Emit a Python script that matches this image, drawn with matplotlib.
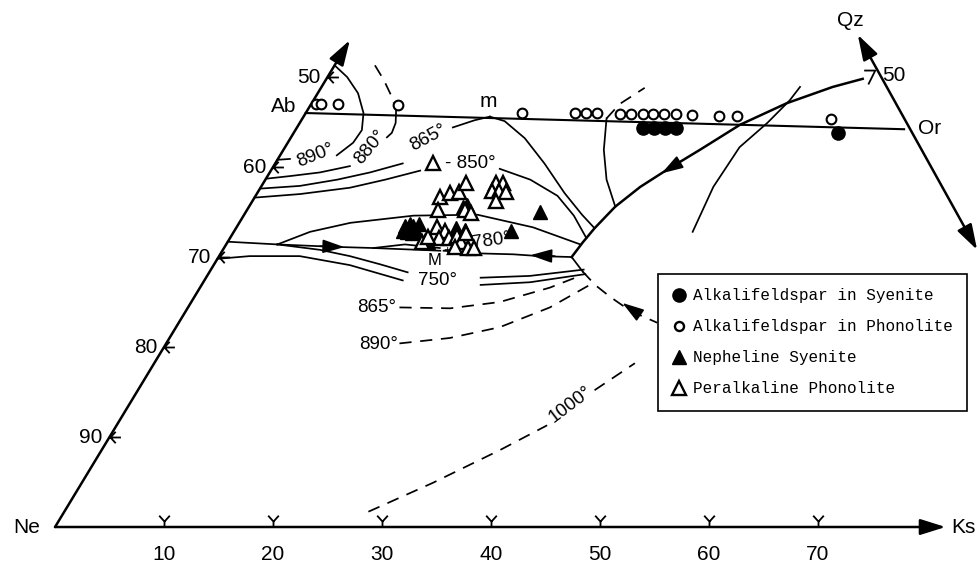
import numpy as np
import matplotlib.pyplot as plt
from matplotlib.lines import Line2D
from matplotlib.path import Path

plt.rcParams['font.family'] = ['Liberation Sans', 'DejaVu Sans']

# all compositions are (Ks, Qz) in wt.%, Ne = 100 - Ks - Qz
ab = (0.0, 46.0)
orth = (55.8, 44.2)
ks_tip = (81.7, 0.0)
qz_tip_left = (0.0, 54.1)
qz_tip_right = (46.3, 54.7)
ks_tip_right = (69.2, 30.8)

ks_ticks = [10, 20, 30, 40, 50, 60, 70]
ne_ticks = [90, 80, 70, 60, 50]

# samples
afs_syenite_ks = [31.8, 32.8, 33.8, 34.8, 49.9]
afs_syenite_qz = [44.3, 44.3, 44.3, 44.3, 43.8]
afs_phonolite_ks = [0.4, 0.9, 2.5, 8.0, 19.8, 24.7, 25.7, 26.7, 28.9, 29.9,
                    31.0, 31.9, 32.9, 34.0, 35.5, 38.1, 39.7, 48.5]
afs_phonolite_qz = [47.0, 47.0, 47.0, 46.9, 46.0, 46.0, 46.0, 46.0, 45.9, 45.9,
                    45.9, 45.9, 45.9, 45.9, 45.8, 45.7, 45.7, 45.3]
neph_syenite_ks = [19.6, 19.9, 15.4, 15.7, 16.1, 16.5, 15.9, 16.4, 16.7, 15.5,
                   18.4, 18.0, 20.2, 21.1, 25.4, 27.0]
neph_syenite_qz = [35.6, 35.8, 33.4, 33.7, 33.4, 33.7, 32.8, 32.7, 32.9, 32.9,
                   31.7, 31.9, 33.2, 33.0, 32.9, 35.0]
peralk_phon_ks = [14.5, 17.0, 17.7, 18.5, 18.6, 17.5, 21.4, 22.0, 21.4, 22.1,
                  22.8, 22.4, 20.0, 20.7, 18.4, 19.3, 19.2, 20.1, 20.7, 21.4,
                  21.1, 22.4, 22.9, 21.4, 17.8, 18.1]
peralk_phon_qz = [40.4, 36.7, 37.1, 37.2, 38.2, 35.2, 38.2, 38.2, 37.3, 37.3,
                  37.2, 36.2, 35.2, 34.9, 33.3, 32.9, 32.1, 32.1, 32.3, 31.7,
                  31.1, 31.0, 31.0, 32.7, 31.7, 32.2]

# isotherms and boundaries
iso890_a = [(0.0, 51.3), (1.8, 50.0), (3.7, 48.2), (5.3, 46.0), (6.1, 44.1), (6.0, 42.7), (5.2, 41.3)]
iso890_b = [(1.1, 40.9), (0.0, 40.8)]
iso880_dash = [(3.7, 51.3), (5.3, 49.7), (7.0, 47.8), (7.9, 46.6)]
iso880_a = [(8.0, 46.6), (8.8, 44.9), (9.0, 43.8), (8.8, 43.3)]
iso880_b = [(7.0, 40.1), (4.6, 39.4), (2.1, 39.0), (0.0, 38.7)]
iso865_a = [(0.0, 37.6), (3.5, 37.9), (6.6, 38.6), (9.2, 39.4), (11.7, 40.4)]
iso865_b = [(14.3, 44.4), (15.9, 45.2), (17.1, 45.6)]
iso850_a = [(0.0, 36.6), (4.0, 37.0), (8.2, 37.7), (11.0, 38.6), (13.7, 39.6)]
iso850_b = [(20.9, 39.8), (24.3, 38.6), (27.7, 36.8), (30.3, 34.6), (32.7, 32.1)]
divide_m = [(17.1, 45.6), (18.7, 45.1), (21.5, 43.2), (24.7, 40.4), (28.2, 37.1), (31.0, 34.7), (32.9, 33.2)]
boundary = [(49.2, 49.8), (46.9, 48.9), (43.6, 47.1), (40.5, 44.7), (38.2, 41.9), (36.3, 39.7),
            (34.8, 37.8), (33.6, 35.6), (32.9, 33.2), (32.6, 31.6), (32.4, 30.0)]
vert = [(27.9, 45.4), (29.4, 41.9), (31.3, 38.6), (33.6, 35.6)]
vert_dash = [(27.9, 45.4), (28.3, 47.0), (29.7, 48.8)]
right_curve = [(42.1, 32.8), (41.5, 37.8), (41.7, 42.2), (42.9, 44.9), (43.7, 47.4), (43.9, 48.9)]
axis_to_t1 = [(0.0, 31.7), (4.7, 31.4)]
t1_to_m = [(4.7, 31.4), (8.7, 31.2), (10.9, 31.1), (13.7, 31.0), (20.0, 30.7)]
lens = [(13.7, 31.0), (16.4, 31.4), (19.8, 31.0)]
m_to_p = [(20.3, 30.7), (23.8, 30.4), (26.9, 30.3), (29.4, 30.1), (32.4, 30.0)]
iso780 = [(4.7, 31.4), (7.0, 32.8), (10.2, 33.8), (15.6, 34.6), (21.4, 34.7), (27.2, 33.3), (32.5, 31.4)]
iso750_a = [(4.7, 31.4), (8.9, 30.8), (12.0, 30.1), (15.2, 29.2), (18.2, 28.3)]
iso750_a2 = [(25.2, 27.7), (29.6, 27.9), (34.2, 28.6)]
iso750_b = [(0.0, 29.8), (2.8, 30.1), (7.4, 30.1), (12.5, 29.1), (18.2, 27.4)]
iso750_b2 = [(25.6, 26.9), (30.0, 27.2), (34.6, 28.1)]
p_solid = [(32.4, 30.0), (34.2, 28.4)]
p_dash = [(34.2, 28.4), (36.1, 26.9), (38.1, 25.6), (40.8, 24.0), (43.9, 22.7)]
iso865_low = [(19.4, 24.4), (24.1, 24.3), (28.3, 25.0), (32.1, 26.6), (34.2, 27.9)]
iso890_low = [(21.4, 20.4), (25.7, 21.0), (29.7, 22.2), (33.2, 24.4), (35.8, 27.1)]
iso1000_a = [(27.9, 1.7), (32.2, 4.9), (36.6, 8.6), (39.5, 11.3)]
iso1000_b = [(41.9, 15.2), (44.1, 18.2)]

# (tail, head) of the arrows on the boundaries
arrows = [((37.1, 40.6), (36.0, 39.3)),
          ((8.7, 31.2), (11.0, 31.1)),
          ((30.8, 30.1), (28.5, 30.2)),
          ((41.3, 23.9), (39.6, 24.9))]

# temperature labels: text, Ks, Qz, rotation
temp_labels = [('890°', 3.2, 41.3, 22), ('880°', 7.8, 42.2, 50), ('865°', 12.6, 43.2, 28),
               ('780°', 24.2, 31.8, 8), ('750°', 21.4, 27.4, 0), ('865°', 17.3, 24.4, 0),
               ('890°', 19.5, 20.3, 0), ('1000°', 40.5, 13.6, 37)]


def tern(pts):
    pts = np.asarray(pts, dtype=float)
    return pts[:, 0] + pts[:, 1] / 2, pts[:, 1]


def xy(ks, qz):
    ks = np.asarray(ks, dtype=float)
    qz = np.asarray(qz, dtype=float)
    return ks + qz / 2, qz


fig = plt.figure(figsize=(9.78, 5.63), dpi=100)
ax = fig.add_axes([0, 0, 1, 1])
ax.set_xlim(-5.05, 84.68)
ax.set_ylim(-4.0, 58.56)
ax.axis('off')


def draw(pts, ls='-', lw=1.25):
    x, y = tern(pts)
    if ls == '--':
        ax.plot(x, y, color='black', lw=lw, ls=(0, (7, 5)))
    else:
        ax.plot(x, y, color='black', lw=lw)


def arrow(tail, head, style='-|>', lw=1.8, scale=22):
    ax.annotate('', xy=xy(*head), xytext=xy(*tail),
                arrowprops=dict(arrowstyle=style + ',head_length=0.7,head_width=0.22',
                                color='black', lw=lw, shrinkA=0, shrinkB=0,
                                mutation_scale=scale))


# frame
arrow((0.0, 0.0), ks_tip)
arrow((0.0, 0.0), qz_tip_left)
arrow(ks_tip_right, qz_tip_right, style='<|-|>')
draw([ab, orth], lw=1.5)

# ticks as little arrow marks
y_mark = Path([(0, 0), (0, 0.5), (-0.45, 1.0), (0, 0.5), (0.45, 1.0)],
              [Path.MOVETO, Path.LINETO, Path.LINETO, Path.MOVETO, Path.LINETO])
l_mark = Path([(1.0, 0), (0, 0), (0.5, 0.55), (0, 0), (0.5, -0.55)],
              [Path.MOVETO, Path.LINETO, Path.LINETO, Path.MOVETO, Path.LINETO])
r_mark = Path([(-0.6, 0.5), (0.2, 0.5), (-0.3, -0.5)],
              [Path.MOVETO, Path.LINETO, Path.LINETO])

bx, by = xy(ks_ticks, np.zeros(len(ks_ticks)))
ax.plot(bx, by, ls='none', marker=y_mark, ms=17, mfc='none', mec='black', mew=1.3)
for t, x0, y0 in zip(ks_ticks, bx, by):
    ax.annotate(str(t), xy=(x0, y0), xytext=(0, -20), textcoords='offset points',
                ha='center', va='center', fontsize=15)

lx, ly = xy(np.zeros(len(ne_ticks)), 100 - np.array(ne_ticks))
ax.plot(lx, ly, ls='none', marker=l_mark, ms=15, mfc='none', mec='black', mew=1.3)
for t, x0, y0 in zip(ne_ticks, lx, ly):
    ax.annotate(str(t), xy=(x0, y0), xytext=(-5, 0), textcoords='offset points',
                ha='right', va='center', fontsize=15)

rx, ry = xy([50.0], [50.0])
ax.plot(rx, ry, ls='none', marker=r_mark, ms=12, mfc='none', mec='black', mew=1.3)
ax.text(*xy(51.9, 50.2), '50', ha='center', va='center', fontsize=15)

# corner and point labels
for txt, k, q, fs in [('Ne', -2.6, 0.0, 15), ('Ks', 83.3, 0.0, 15), ('Qz', 44.8, 56.3, 15),
                      ('Ab', -2.4, 46.7, 15), ('Or', 58.1, 44.3, 15), ('m', 16.1, 47.3, 15),
                      ('M', 20.0, 29.6, 12), ('+', 20.6, 30.7, 9)]:
    ax.text(*xy(k, q), txt, ha='center', va='center', fontsize=fs, zorder=8)

# solid curves
for c in [iso890_a, iso890_b, iso880_a, iso880_b, iso865_a, iso865_b, iso850_a, iso850_b,
          divide_m, vert, right_curve, axis_to_t1, t1_to_m, lens, m_to_p, iso780,
          iso750_a, iso750_a2, iso750_b, iso750_b2, p_solid]:
    draw(c)
draw(boundary, lw=1.8)

# dashed curves
for c in [iso880_dash, vert_dash, p_dash, iso865_low, iso890_low, iso1000_a, iso1000_b]:
    draw(c, ls='--')

for tail, head in arrows:
    arrow(tail, head, lw=1.2, scale=19)

for txt, k, q, rot in temp_labels:
    ax.text(*xy(k, q), txt, ha='center', va='center', fontsize=13.5, rotation=rot)
ax.text(*xy(15.6, 40.4), '- 850°', ha='left', va='center', fontsize=13.5)

# samples
ax.plot(*xy(afs_phonolite_ks, afs_phonolite_qz), ls='none', marker='o', ms=7,
        mfc='white', mec='black', mew=1.5, zorder=5)
ax.plot(*xy(afs_syenite_ks, afs_syenite_qz), ls='none', marker='o', ms=9.5,
        color='black', zorder=5)
ax.plot(*xy(neph_syenite_ks, neph_syenite_qz), ls='none', marker='^', ms=9.5,
        color='black', zorder=5)
ax.plot(*xy(peralk_phon_ks, peralk_phon_qz), ls='none', marker='^', ms=9.5,
        mfc='white', mec='black', mew=1.7, zorder=6)

handles = [Line2D([], [], ls='none', marker='o', color='black', ms=9.5),
           Line2D([], [], ls='none', marker='o', mfc='white', mec='black', ms=6.5, mew=1.7),
           Line2D([], [], ls='none', marker='^', color='black', ms=9.5),
           Line2D([], [], ls='none', marker='^', mfc='white', mec='black', ms=9.5, mew=1.7)]
labels = ['Alkalifeldspar in Syenite', 'Alkalifeldspar in Phonolite',
          'Nepheline Syenite', 'Peralkaline Phonolite']
leg = ax.legend(handles, labels, loc='upper left', bbox_to_anchor=(658 / 978, 1 - 274 / 563),
                bbox_transform=fig.transFigure, prop={'family': 'Liberation Mono', 'size': 11.5},
                frameon=True, fancybox=False, edgecolor='black', framealpha=1,
                borderpad=0.9, labelspacing=1.0, handlelength=0.8, handletextpad=0.5,
                borderaxespad=0)
leg.get_frame().set_linewidth(1.2)

fig.savefig('out.png', dpi=100)
